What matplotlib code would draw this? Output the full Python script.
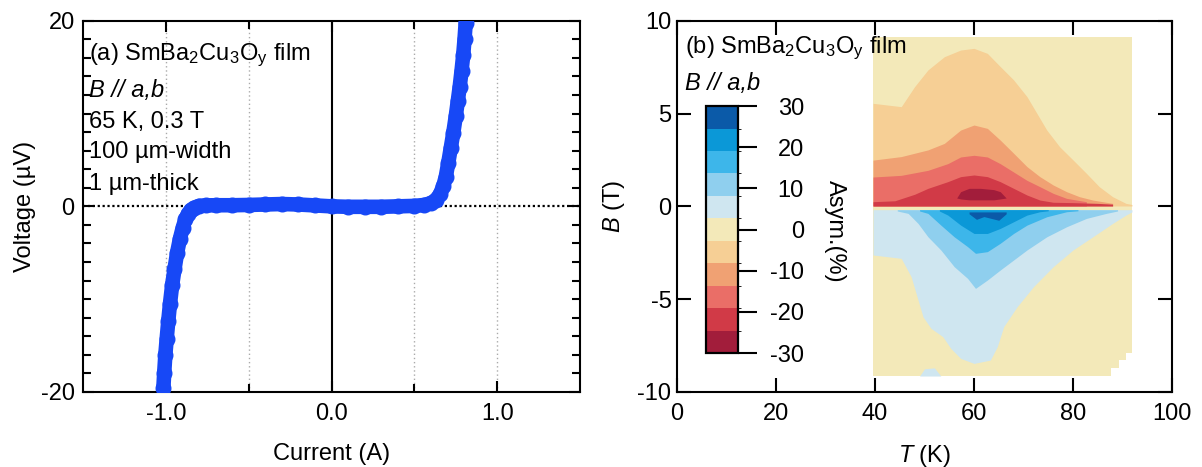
import numpy as np
import matplotlib
matplotlib.use('Agg')
import matplotlib.pyplot as plt
from matplotlib.colors import ListedColormap, BoundaryNorm
from matplotlib.cm import ScalarMappable
from matplotlib.ticker import MultipleLocator, FixedLocator

plt.rcParams['font.family'] = ['Liberation Sans', 'DejaVu Sans']
plt.rcParams['mathtext.fontset'] = 'custom'
plt.rcParams['mathtext.rm'] = 'Liberation Sans'
plt.rcParams['mathtext.it'] = 'Liberation Sans:italic'
plt.rcParams['axes.unicode_minus'] = False
FS = 17

# ---------------- panel (a): I-V curve ----------------
current_A = [-1.015, -1.010, -1.003, -0.995, -0.985, -0.975, -0.962, -0.948, -0.932,
             -0.915, -0.898, -0.882, -0.866, -0.850, -0.830, -0.800, -0.760, -0.700,
             -0.600, -0.500, -0.400, -0.300, -0.200, -0.100, 0.000, 0.100, 0.200,
             0.300, 0.400, 0.500, 0.560, 0.600, 0.630, 0.655, 0.675, 0.690, 0.705,
             0.720, 0.735, 0.750, 0.762, 0.774, 0.785, 0.795, 0.803, 0.810]
voltage_uV = [-19.6, -18.0, -16.0, -14.3, -12.3, -10.5, -8.5, -6.8, -5.0,
              -3.5, -2.3, -1.4, -0.8, -0.4, -0.15, 0.05, 0.1, 0.12,
              0.12, 0.15, 0.2, 0.25, 0.2, 0.1, 0.0, -0.05, -0.05,
              -0.05, 0.0, 0.05, 0.15, 0.35, 0.7, 1.3, 2.2, 3.2, 4.7,
              6.3, 7.9, 9.7, 11.3, 12.9, 14.6, 16.3, 18.0, 19.8]

# ---------------- panel (b): asymmetry map (level boundaries) ----------------
asym_ticks = [-30, -20, -10, 0, 10, 20, 30]
level_colors = ['#a21d3b', '#d13a47', '#ea6e67', '#f0a173', '#f6cf95', '#f3e9b9',
                '#cfe6f0', '#8fcfee', '#3db6ea', '#0b98d7', '#0b5aa8']

# measured map extent
map_T = [39.6, 91.9, 91.9, 90.7, 90.7, 89.2, 89.2, 87.6, 87.6, 39.6]
map_B = [9.14, 9.14, -7.9, -7.9, -8.3, -8.3, -8.7, -8.7, -9.14, -9.14]

# B > 0 side (negative asymmetry), upper boundary of each level
lo_T = [39.6, 45.3, 48.0, 50.7, 54.0, 57.3, 60.0, 62.7, 65.3, 68.0, 70.7, 72.7, 74.7,
        77.3, 80.0, 82.7, 85.3, 88.0, 90.7, 91.9]
lo_B = [5.55, 5.37, 6.45, 7.35, 8.06, 8.42, 8.51, 8.24, 7.53, 6.81, 5.91, 5.01, 4.11,
        3.21, 2.50, 1.78, 1.06, 0.52, 0.16, 0.10]
or_T = [39.6, 45.3, 50.7, 54.0, 57.3, 60.0, 62.7, 65.3, 68.0, 70.7, 73.3, 76.0, 78.7,
        81.3, 84.0, 88.0]
or_B = [2.49, 2.68, 3.04, 3.39, 4.11, 4.38, 4.20, 3.57, 2.86, 2.14, 1.60, 1.15, 0.79,
        0.52, 0.34, 0.16]
sa_T = [39.6, 45.3, 50.7, 54.7, 57.3, 60.0, 62.7, 65.3, 68.0, 70.7, 73.3, 76.0, 78.7, 82.7]
sa_B = [1.58, 1.67, 1.94, 2.30, 2.66, 2.75, 2.66, 2.30, 1.85, 1.40, 1.06, 0.70, 0.43, 0.25]
rd_T = [39.6, 44.0, 48.0, 50.7, 54.7, 57.3, 60.0, 62.7, 65.3, 68.0, 70.7, 73.3, 76.0,
        80.0, 85.0, 88.0]
rd_B = [0.25, 0.30, 0.65, 0.97, 1.33, 1.60, 1.69, 1.60, 1.33, 0.97, 0.61, 0.34, 0.22,
        0.20, 0.16, 0.12]
dr_T = [56.5, 57.3, 59.0, 61.3, 64.0, 65.3, 66.5]
dr_lo = [0.45, 0.40, 0.35, 0.35, 0.35, 0.40, 0.45]
dr_hi = [0.45, 0.79, 0.97, 0.97, 0.90, 0.79, 0.45]
pos_base = 0.02

# B < 0 side (positive asymmetry), lower boundary of each level
vb_T = [39.6, 45.3, 47.3, 48.7, 49.7, 51.3, 53.7, 55.3, 57.3, 60.0, 63.3, 64.7, 66.0,
        68.7, 72.0, 76.0, 80.0, 84.0, 88.0, 90.7, 91.9]
vb_B = [-2.62, -2.80, -3.79, -5.05, -5.95, -6.57, -7.02, -7.65, -8.19, -8.46, -8.28,
        -7.56, -6.48, -5.41, -4.33, -3.25, -2.35, -1.64, -0.92, -0.47, -0.30]
lb_T = [44.5, 46.7, 48.7, 50.7, 53.3, 56.0, 58.7, 60.3, 62.7, 65.3, 68.0, 70.7, 74.7,
        78.7, 82.7, 86.7, 89.0]
lb_B = [-0.25, -0.38, -0.92, -1.64, -2.35, -3.25, -3.88, -4.42, -3.97, -3.43, -2.89,
        -2.35, -1.64, -1.10, -0.65, -0.38, -0.25]
sk_T = [49.0, 50.7, 53.3, 56.0, 58.7, 60.3, 62.7, 65.3, 68.0, 70.7, 74.7, 78.7, 81.0]
sk_B = [-0.25, -0.38, -1.01, -1.64, -2.17, -2.53, -2.44, -1.99, -1.46, -1.01, -0.56,
        -0.29, -0.24]
bl_T = [53.0, 54.7, 57.3, 60.0, 62.7, 65.3, 68.0, 70.7, 73.3, 75.0]
bl_B = [-0.25, -0.47, -1.01, -1.46, -1.46, -1.19, -0.83, -0.47, -0.29, -0.24]
db_T = [59.0, 60.5, 62.0, 63.5, 65.0, 66.5]
db_B = [-0.40, -0.70, -0.55, -0.65, -0.75, -0.40]
db_top = -0.30
neg_top = -0.18
blob_T = [49.0, 50.0, 52.0, 53.3]
blob_B = [-9.14, -8.75, -8.70, -9.14]

# ---------------- figure ----------------
fig = plt.figure(figsize=(12.02, 4.67), dpi=100)
W, H = 1202, 467
ax1 = fig.add_axes([83 / W, 1 - 392 / H, 497 / W, 371.3 / H])
ax2 = fig.add_axes([677 / W, 1 - 392 / H, 495 / W, 371.3 / H])

for ax in (ax1, ax2):
    for s in ax.spines.values():
        s.set_linewidth(1.5)

# ---- panel a ----
ax1.set_xlim(-1.5, 1.5)
ax1.set_ylim(-20, 20)
for xv in (-1.0, -0.5, 0.5, 1.0):
    ax1.axvline(xv, color='#aaaaaa', lw=1.0, ls=(0, (1, 2)), zorder=1)
ax1.axvline(0, color='black', lw=1.5, zorder=2)
ax1.axhline(0, color='black', lw=1.6, ls=(0, (1, 1.2)), zorder=2)
ax1.plot(current_A, voltage_uV, color='#1748f6', lw=10.5, marker='o', ms=10.5,
         solid_capstyle='round', solid_joinstyle='round', zorder=3)

ax1.xaxis.set_major_locator(FixedLocator([-1.0, 0.0, 1.0]))
ax1.xaxis.set_minor_locator(FixedLocator([-0.5, 0.5]))
ax1.yaxis.set_major_locator(FixedLocator([-20, 0, 20]))
ax1.yaxis.set_minor_locator(MultipleLocator(2))
ax1.set_xticklabels(['-1.0', '0.0', '1.0'])
ax1.set_yticklabels(['-20', '0', '20'])
ax1.tick_params(which='both', direction='in', top=True, right=True, width=1.5,
                labelsize=FS)
ax1.tick_params(which='major', length=8)
ax1.tick_params(which='minor', length=5.5)
ax1.tick_params(axis='x', pad=8)
ax1.tick_params(axis='y', pad=6)
ax1.set_xlabel('Current (A)', fontsize=FS)
ax1.set_ylabel('Voltage (µV)', fontsize=FS)
ax1.xaxis.set_label_coords(0.5, -0.138)
ax1.yaxis.set_label_coords(-0.095, 0.5)

txt_x = 0.013
ax1.text(txt_x, 0.894, r'(a) SmBa$_2$Cu$_3$O$_\mathrm{y}$ film', transform=ax1.transAxes,
         fontsize=FS, va='baseline')
ax1.text(txt_x, 0.7945, 'B // a,b', transform=ax1.transAxes, fontsize=FS,
         va='baseline', style='italic')
ax1.text(txt_x, 0.711, '65 K, 0.3 T', transform=ax1.transAxes, fontsize=FS, va='baseline')
ax1.text(txt_x, 0.630, '100 µm-width', transform=ax1.transAxes, fontsize=FS, va='baseline')
ax1.text(txt_x, 0.544, '1 µm-thick', transform=ax1.transAxes, fontsize=FS, va='baseline')

# ---- panel b ----
ax2.set_xlim(0, 100)
ax2.set_ylim(-10, 10)
ax2.fill(map_T, map_B, color=level_colors[5], lw=0, zorder=1)
for T, B, c in ((lo_T, lo_B, 4), (or_T, or_B, 3), (sa_T, sa_B, 2), (rd_T, rd_B, 1)):
    ax2.fill_between(T, pos_base, B, color=level_colors[c], lw=0, zorder=2)
ax2.fill_between(dr_T, dr_lo, dr_hi, color=level_colors[0], lw=0, zorder=2)
for T, B, c in ((vb_T, vb_B, 6), (lb_T, lb_B, 7), (sk_T, sk_B, 8), (bl_T, bl_B, 9)):
    ax2.fill_between(T, B, neg_top, color=level_colors[c], lw=0, zorder=2)
ax2.fill_between(db_T, db_B, db_top, color=level_colors[10], lw=0, zorder=2)
ax2.fill_between(blob_T, blob_B, -9.14, color=level_colors[6], lw=0, zorder=2)

ax2.xaxis.set_major_locator(MultipleLocator(20))
ax2.yaxis.set_major_locator(MultipleLocator(5))
ax2.tick_params(direction='in', top=True, right=True, width=1.5, length=10,
                labelsize=FS)
ax2.tick_params(axis='x', pad=8)
ax2.tick_params(axis='y', pad=4)
ax2.set_xlabel(r'$\it{T}$ (K)', fontsize=FS)
ax2.set_ylabel(r'$\it{B}$ (T)', fontsize=FS)
ax2.xaxis.set_label_coords(0.5, -0.138)
ax2.yaxis.set_label_coords(-0.101, 0.5)

ax2.text(0.016, 0.913, r'(b) SmBa$_2$Cu$_3$O$_\mathrm{y}$ film', transform=ax2.transAxes,
         fontsize=FS, va='baseline')
ax2.text(0.016, 0.813, 'B // a,b', transform=ax2.transAxes, fontsize=FS,
         va='baseline', style='italic')

# colorbar
bounds = np.linspace(-30, 30, 12)
cmap = ListedColormap(level_colors)
norm = BoundaryNorm(bounds, cmap.N)
cax = ax2.inset_axes([5.86, -7.90, 6.46, 13.3], transform=ax2.transData)
cb = fig.colorbar(ScalarMappable(norm=norm, cmap=cmap), cax=cax, ticks=asym_ticks)
cb.outline.set_linewidth(1.6)
cax.tick_params(direction='out', length=13.5, width=1.5, labelsize=FS, pad=34)
for lab in cax.get_yticklabels():
    lab.set_horizontalalignment('right')
ax2.text(31.9, -1.33, 'Asym.(%)', rotation=270, ha='center', va='center', fontsize=FS)

fig.savefig('out.png', dpi=100)
